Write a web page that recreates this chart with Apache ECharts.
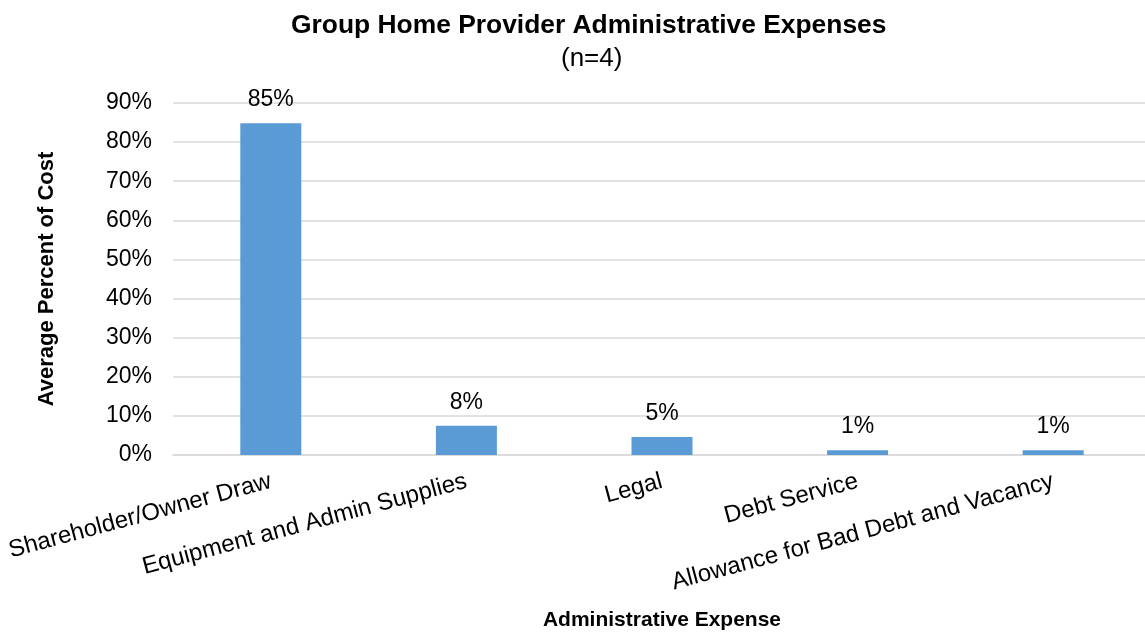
<!DOCTYPE html>
<html><head><meta charset="utf-8">
<script src="https://cdn.jsdelivr.net/npm/echarts@6/dist/echarts.min.js"></script>
<style>html,body{margin:0;padding:0;background:#fff}#c{width:1145px;height:633px}</style>
</head><body><div id="c"></div>
<script>
const categories = ["Shareholder/Owner Draw","Equipment and Admin Supplies","Legal","Debt Service","Allowance for Bad Debt and Vacancy"];
const values = [84.8, 7.5, 4.6, 1.2, 1.2];
const yTicks = {min: 0, max: 90, interval: 10};
const F = 'Arial, "Liberation Sans", sans-serif';
const chart = echarts.init(document.getElementById('c'), null, {renderer:'canvas'});
chart.setOption({
  animation: false,
  title: [
    {text: 'Group Home Provider Administrative Expenses', left: 286, top: 8,
     textStyle: {fontFamily: F, fontSize: 26.4, fontWeight: 'bold', color: '#000'}},
    {text: '(n=4)', left: 556, top: 41,
     textStyle: {fontFamily: F, fontSize: 26, fontWeight: 'normal', color: '#000'}}
  ],
  grid: {left: 173, right: -6, top: 103, bottom: 178, outerBoundsMode: 'none', containLabel: false},
  xAxis: {
    type: 'category', data: categories,
    name: 'Administrative Expense', nameLocation: 'middle', nameGap: 155,
    nameTextStyle: {fontFamily: F, fontSize: 21, fontWeight: 'bold', color: '#000'},
    axisLine: {lineStyle: {color: '#d9d9d9', width: 1.5}},
    axisTick: {show: false},
    axisLabel: {rotate: 15, fontFamily: F, fontSize: 24, color: '#000', margin: 26, interval: 0}
  },
  yAxis: {
    type: 'value', min: yTicks.min, max: yTicks.max, interval: yTicks.interval,
    name: 'Average Percent of Cost', nameLocation: 'middle', nameGap: 115,
    nameTextStyle: {fontFamily: F, fontSize: 22, fontWeight: 'bold', color: '#000'},
    axisLabel: {formatter: v => v + '%', fontFamily: F, fontSize: 23, color: '#000', margin: 21},
    splitLine: {lineStyle: {color: '#d9d9d9', width: 1.5}},
    axisLine: {show: false}, axisTick: {show: false}
  },
  series: [{
    type: 'bar', data: values, barWidth: 61,
    itemStyle: {color: '#5b9bd5'},
    label: {show: true, position: 'top', distance: 12, formatter: p => Math.round(p.value) + '%',
      fontFamily: F, fontSize: 23, color: '#000'}
  }]
});
</script></body></html>
